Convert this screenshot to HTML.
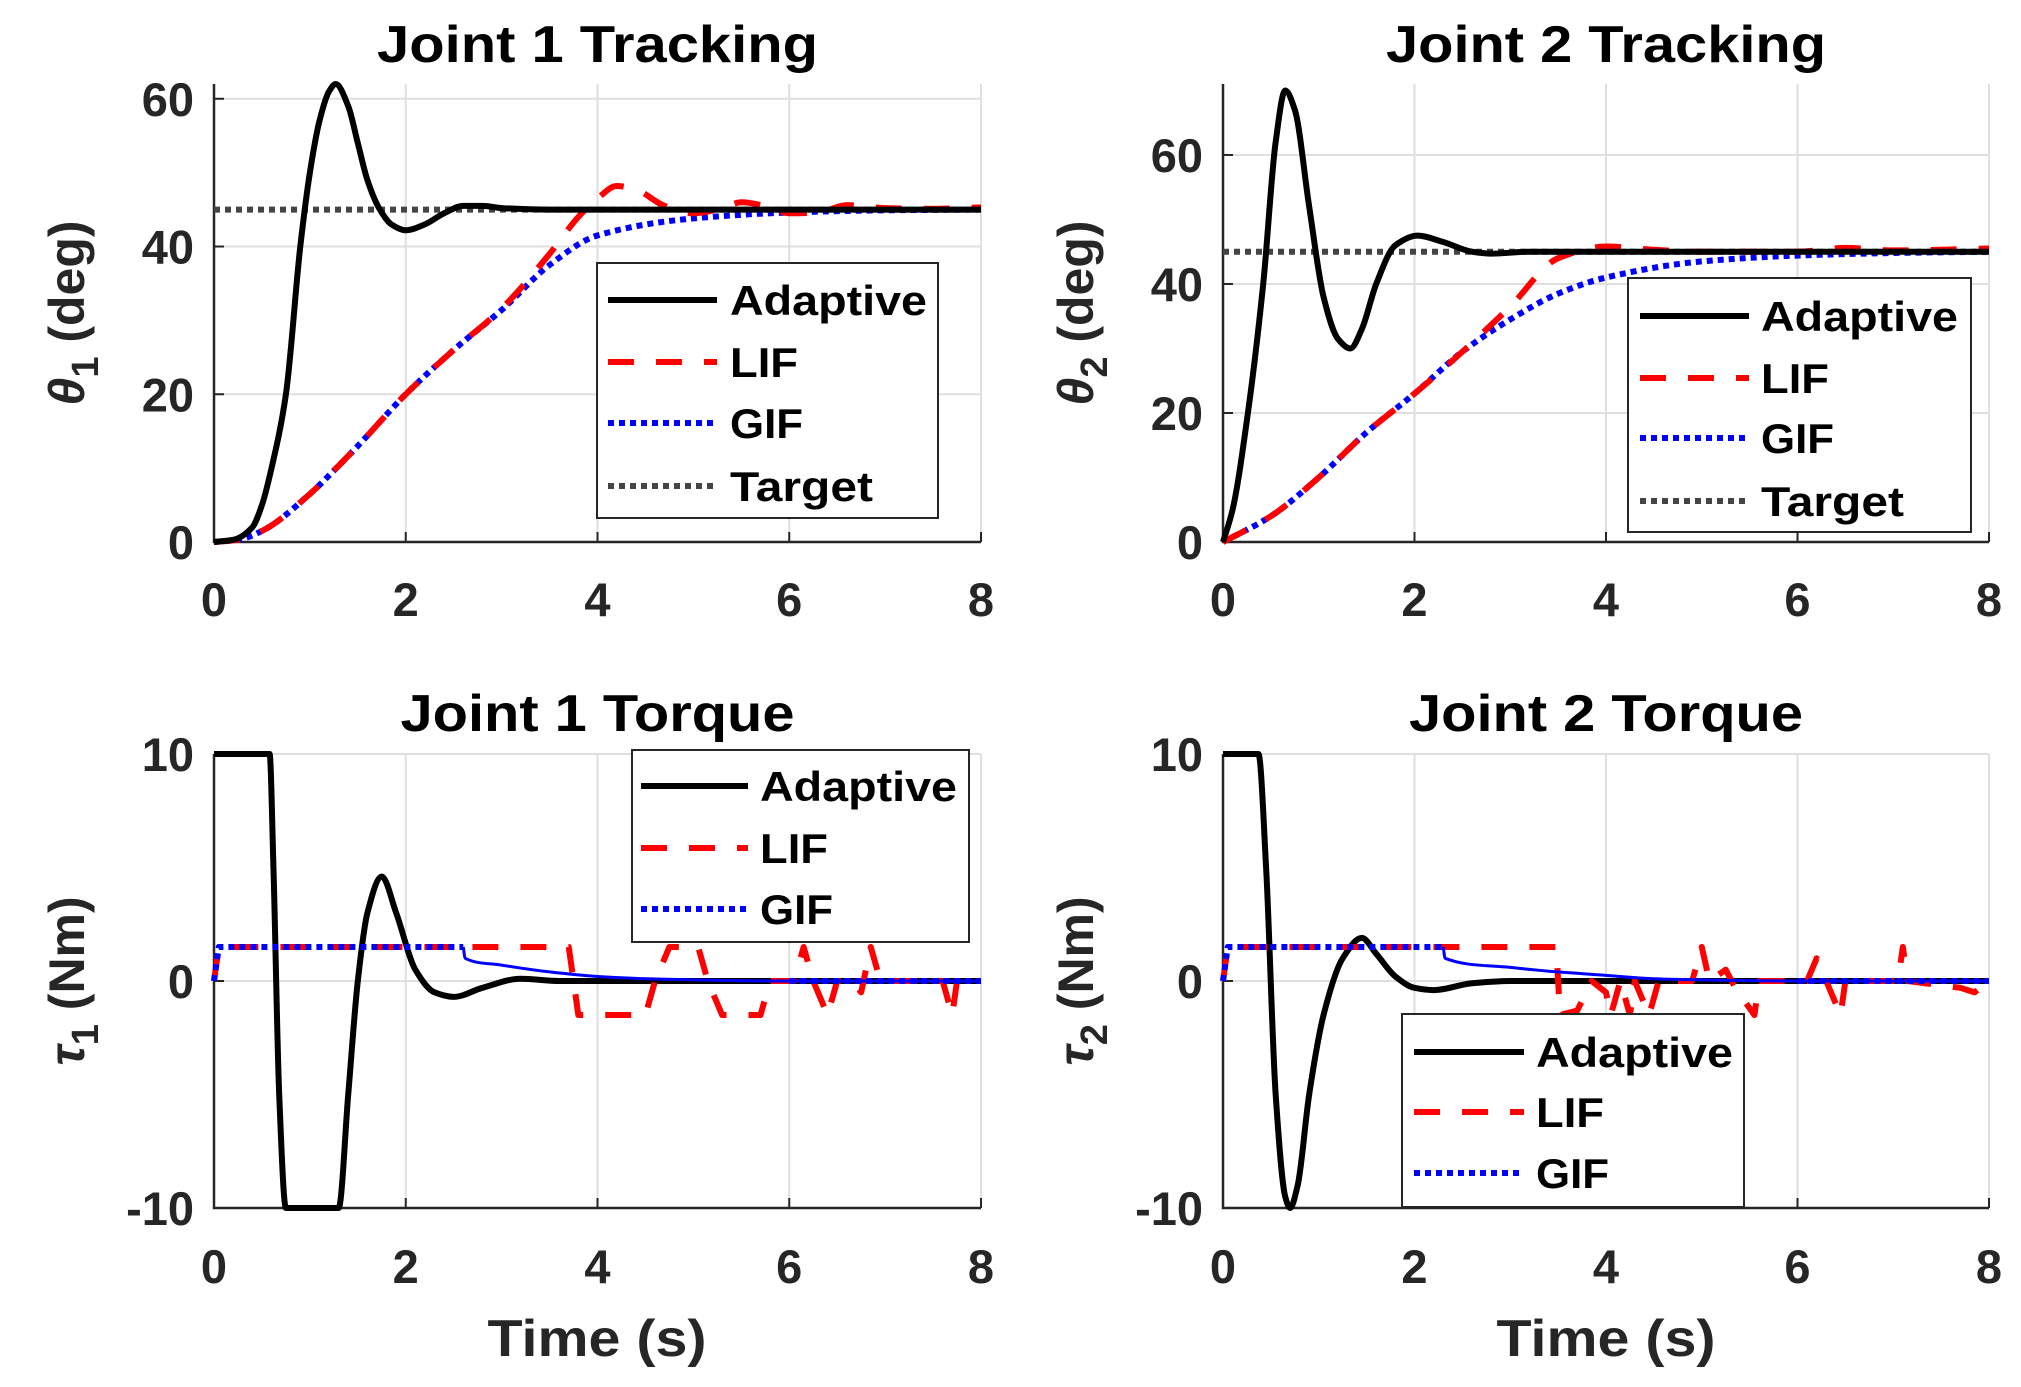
<!DOCTYPE html>
<html><head><meta charset="utf-8"><style>
html,body{margin:0;padding:0;background:#fff;}
svg{display:block;font-family:"Liberation Sans",sans-serif;font-weight:bold;}
</style></head><body>
<svg id="fig" width="2021" height="1387" viewBox="0 0 2021 1387" xmlns="http://www.w3.org/2000/svg"></svg>
<script>
// ---- data ----
const tAd1 = [0,0.2,0.4,0.5,0.6,0.75,0.9,1.0,1.1,1.2,1.27,1.4,1.5,1.6,1.73,1.85,2.0,2.2,2.4,2.6,2.8,3.0,3.5,8];
const vAd1 = [0,0.3,2,5,10,20,40,50,57,61,62,59,54,49,45,43,42.2,43,44.5,45.5,45.5,45.2,45,45];
const tGif1 = [0,0.25,0.5,1.0,1.26,1.5,2.0,2.5,3.0,3.5,4.0,5.0,6.0,7.0,8.0];
const vGif1 = [0,0.3,1.5,6.5,9.8,13,20,26,31.4,37.5,41.5,43.8,44.6,44.9,45];
const tLif1 = [0,0.25,0.5,1.0,1.26,1.5,2.0,2.5,3.0,3.5,3.8,4.0,4.2,4.4,4.7,5.0,5.3,5.5,5.8,6.0,6.3,6.6,7.0,7.5,8.0];
const vLif1 = [0,0.3,1.5,6.5,9.8,13,20,26,31.6,39,44,46.5,48.2,47.7,45.5,44.5,45.2,46,45.3,44.5,44.6,45.6,45.2,45.1,45.3];
const tAd2 = [0,0.1,0.26,0.42,0.55,0.65,0.75,0.9,1.05,1.2,1.33,1.45,1.6,1.8,2.03,2.3,2.6,2.8,3.2,8];
const vAd2 = [0,5,20,40,62,70,67,52,38,31.5,30,33,40,46,47.5,46.5,45,44.7,45,45];
const tGif2 = [0,0.5,1.0,1.5,2.0,2.5,3.0,3.5,4.0,5.0,6.0,7.0,8.0];
const vGif2 = [0,4,10,17,23,29.5,34.5,38.5,41,43.5,44.4,44.8,45];
const tLif2 = [0,0.5,1.0,1.5,2.0,2.5,3.0,3.5,4.0,4.5,5.0,6.0,6.5,7.0,8.0];
const vLif2 = [0,4,10,17,23,29.5,36.5,44,45.8,45.3,45,45,45.6,45.2,45.5];
const target = 45;
const tTq1Ad = [0,0.58,0.62,0.68,0.75,1.3,1.4,1.5,1.6,1.75,1.9,2.1,2.3,2.5,2.8,3.2,3.6,8];
const vTq1Ad = [10,10,5,-5,-10,-10,-5,0,3,4.6,3,0.5,-0.5,-0.7,-0.3,0.1,0,0];
const tTq1Gif = [0,0.05,2.6,2.62,3.0,3.5,4.0,4.5,5.0,6.0,8.0];
const vTq1Gif = [0,1.5,1.5,1.0,0.7,0.4,0.2,0.1,0.05,0,0];
const tTq1Lif = [0,0.05,3.7,3.8,4.5,4.6,4.75,5.05,5.15,5.3,5.7,5.8,6.05,6.15,6.25,6.4,6.5,6.65,6.75,6.85,6.95,7.6,7.7,7.75,8];
const vTq1Lif = [0,1.5,1.5,-1.5,-1.5,0,1.5,1.5,0,-1.5,-1.5,0,0,1.5,0,-1.5,0,0,-0.5,1.5,0,0,-1.5,0,0];
const tTq2Ad = [0,0.37,0.45,0.55,0.65,0.7,0.78,0.9,1.05,1.25,1.45,1.6,1.8,2.0,2.2,2.6,3,8];
const vTq2Ad = [10,10,5,-5,-9.5,-10,-9,-5,-1.5,1,1.9,1.2,0.2,-0.3,-0.4,-0.1,0,0];
const tTq2Gif = [0,0.05,2.3,2.32,3.0,3.5,4.0,4.5,5.0,6.0,8.0];
const vTq2Gif = [0,1.5,1.5,1.0,0.6,0.4,0.25,0.1,0.05,0,0];
const tTq2Lif = [0,0.05,3.48,3.52,3.7,3.85,4.0,4.05,4.15,4.25,4.3,4.45,4.55,4.9,5.0,5.08,5.25,5.35,5.55,5.6,6.1,6.2,6.3,6.45,6.5,7.05,7.1,7.15,7.7,7.85,8];
const vTq2Lif = [0,1.5,1.5,-1.5,-1.3,0,-0.5,-1.5,0,-1.5,0,-1.5,0,0,1.5,0,0.5,-0.3,-1.5,0,0,1,0,-1.5,0,0,1.5,0,-0.3,-0.5,0];
const xTicks = [0,2,4,6,8];
const yTicksTrack = [0,20,40,60];
const yTicksTorque = [-10,0,10];

// ---- helpers ----
const NS = "http://www.w3.org/2000/svg";
const fig = document.getElementById('fig');
function mk(tag, attrs, parent){ const e=document.createElementNS(NS,tag); for(const k in attrs) e.setAttribute(k,attrs[k]); (parent||fig).appendChild(e); return e; }
// monotone cubic (Fritsch-Carlson) in screen space
function smoothPath(xs, ys){
  const n=xs.length; if(n<3) return linePath(xs,ys);
  const dx=[],m=[],t=new Array(n);
  for(let i=0;i<n-1;i++){ dx[i]=xs[i+1]-xs[i]; m[i]=(ys[i+1]-ys[i])/dx[i]; }
  t[0]=m[0]; t[n-1]=m[n-2];
  for(let i=1;i<n-1;i++){
    if(m[i-1]*m[i]<=0) t[i]=0;
    else { const w1=2*dx[i]+dx[i-1], w2=dx[i]+2*dx[i-1]; t[i]=(w1+w2)/(w1/m[i-1]+w2/m[i]); }
  }
  let d='M'+xs[0]+','+ys[0];
  for(let i=0;i<n-1;i++){
    const h=dx[i]/3;
    d+=' C'+(xs[i]+h)+','+(ys[i]+t[i]*h)+' '+(xs[i+1]-h)+','+(ys[i+1]-t[i+1]*h)+' '+xs[i+1]+','+ys[i+1];
  }
  return d;
}
function linePath(xs, ys){ return xs.map((x,i)=>(i?'L':'M')+x+','+ys[i]).join(' '); }

const styles = {
  ad:{stroke:'#000','stroke-width':6},
  lif:{stroke:'#ff0000','stroke-width':6,'stroke-dasharray':'26 22'},
  gif:{stroke:'#0000ff','stroke-width':6,'stroke-dasharray':'6 5'},
  tgt:{stroke:'#444','stroke-width':6,'stroke-dasharray':'6 5'}
};

function axes(id, x0, x1, yT, yB, ymin, ymax, yTicks, title, titleW, titleY, ylab, ylabSub, ylabUnit, ylabX, xLabY){
  const g = mk('g',{});
  
  
  const sx = t => x0 + (t/8)*(x1-x0);
  const sy = v => yB - (v-ymin)/(ymax-ymin)*(yB-yT);
  mk('rect',{x:x0,y:yT,width:x1-x0,height:yB-yT,fill:'#fff'},g);
  xTicks.forEach(t=>{ const l=mk('line',{x1:sx(t),x2:sx(t),y1:yT,y2:yB,stroke:'#dfdfdf','stroke-width':2},g);
      });
  yTicks.forEach(v=>{ const l=mk('line',{x1:x0,x2:x1,y1:sy(v),y2:sy(v),stroke:'#dfdfdf','stroke-width':2},g);
      });
  xTicks.forEach(t=>{
    mk('line',{x1:sx(t),x2:sx(t),y1:yB,y2:yB-10,stroke:'#262626','stroke-width':2},g);
    const tx=mk('text',{x:sx(t),y:xLabY,'text-anchor':'middle','font-size':47,fill:'#262626'},g); tx.textContent=t;
     
  });
  yTicks.forEach(v=>{
    mk('line',{x1:x0,x2:x0+10,y1:sy(v),y2:sy(v),stroke:'#262626','stroke-width':2},g);
    const tx=mk('text',{x:x0-20,y:sy(v)+17,'text-anchor':'end','font-size':47,fill:'#262626'},g); tx.textContent=v;
     
  });
  mk('path',{d:'M'+x0+','+yT+' L'+x0+','+yB+' L'+x1+','+yB,fill:'none',stroke:'#262626','stroke-width':2.5},g);
  const tt=mk('text',{x:(x0+x1)/2,y:titleY,'text-anchor':'middle','font-size':52,fill:'#000',textLength:titleW,lengthAdjust:'spacingAndGlyphs'},g);
  tt.textContent=title;  
  const yl=mk('text',{x:0,y:0,'text-anchor':'middle','font-size':50,fill:'#262626',transform:'translate('+ylabX+','+((yT+yB)/2)+') rotate(-90)'},g);
   
  const s1=mk('tspan',{'font-style':'italic'},yl); s1.textContent=ylab;
  const s2=mk('tspan',{dy:14,'font-size':38},yl); s2.textContent=ylabSub;
  const s3=mk('tspan',{dy:-14},yl); s3.textContent=' '+ylabUnit;
  const clipId='clip-'+id;
  const cp=mk('clipPath',{id:clipId},g); mk('rect',{x:x0-4,y:yT-6,width:x1-x0+8,height:yB-yT+12},cp);
  const data=mk('g',{'clip-path':'url(#'+clipId+')'},g);
  return {g,data,sx,sy};
}
function series(ax, ts, vs, st, name, smooth, extra){
  const xs=ts.map(ax.sx), ys=vs.map(ax.sy);
  const p=mk('path',Object.assign({d:smooth?smoothPath(xs,ys):linePath(xs,ys),fill:'none','stroke-linejoin':'round'},st,extra||{}),ax.data);
  
  
  return p;
}
const legendW = {Adaptive:197, LIF:68, GIF:73, Target:143};
function legend(x,y,w,h,entries,lineX0,lineX1,textX,rowYs,name){
  const g=mk('g',{});
  
  
  mk('rect',{x:x,y:y,width:w,height:h,fill:'#fff',stroke:'#262626','stroke-width':2},g);
  entries.forEach((e,i)=>{
    mk('line',Object.assign({x1:lineX0,x2:lineX1,y1:rowYs[i],y2:rowYs[i]},styles[e[0]]),g);
    const t=mk('text',{x:textX,y:rowYs[i]+15,'font-size':42,fill:'#000',textLength:legendW[e[1]],lengthAdjust:'spacingAndGlyphs'},g); t.textContent=e[1];
     
  });
}

// ---- panels ----
const A1=axes('joint1-tracking-axes',214,981,84,542,0,62,yTicksTrack,'Joint 1 Tracking',441,62,'θ','1','(deg)',84,616);
series(A1,[0,8],[target,target],styles.tgt,'target-line',false);
series(A1,tGif1,vGif1,styles.gif,'gif-line',true);
series(A1,tLif1,vLif1,styles.lif,'lif-line',true);
series(A1,tAd1,vAd1,styles.ad,'adaptive-line',true);

const A2=axes('joint2-tracking-axes',1223,1989,84,542,0,71,yTicksTrack,'Joint 2 Tracking',440,62,'θ','2','(deg)',1093,616);
series(A2,[0,8],[target,target],styles.tgt,'target-line',false);
series(A2,tGif2,vGif2,styles.gif,'gif-line',true);
series(A2,tLif2,vLif2,styles.lif,'lif-line',true);
series(A2,tAd2,vAd2,styles.ad,'adaptive-line',true);

const A3=axes('joint1-torque-axes',214,981,754,1208,-10,10,yTicksTorque,'Joint 1 Torque',394,731,'τ','1','(Nm)',84,1283);
series(A3,tTq1Ad,vTq1Ad,styles.ad,'adaptive-line',true);
series(A3,tTq1Lif,vTq1Lif,styles.lif,'lif-line',false,{'stroke-dasharray':'26 22'});
series(A3,tTq1Gif.slice(0,3),vTq1Gif.slice(0,3),styles.gif,'gif-line',false);
series(A3,tTq1Gif.slice(2),vTq1Gif.slice(2),{stroke:'#0000ff','stroke-width':3},'gif-decay-line',true);
series(A3,[6,8],[0,0],styles.gif,'gif-line-tail',false);

const A4=axes('joint2-torque-axes',1223,1989,754,1208,-10,10,yTicksTorque,'Joint 2 Torque',394,731,'τ','2','(Nm)',1093,1283);
series(A4,tTq2Ad,vTq2Ad,styles.ad,'adaptive-line',true);
series(A4,tTq2Lif,vTq2Lif,styles.lif,'lif-line',false,{'stroke-dasharray':'26 22'});
series(A4,tTq2Gif.slice(0,3),vTq2Gif.slice(0,3),styles.gif,'gif-line',false);
series(A4,tTq2Gif.slice(2),vTq2Gif.slice(2),{stroke:'#0000ff','stroke-width':3},'gif-decay-line',true);
series(A4,[6,8],[0,0],styles.gif,'gif-line-tail',false);

[[597,'x-axis-title'],[1606,'x-axis-title']].forEach(a=>{
  const t=mk('text',{x:a[0],y:1356,'text-anchor':'middle','font-size':52,fill:'#262626',textLength:219,lengthAdjust:'spacingAndGlyphs'});
  t.textContent='Time (s)';  
});

const four=[['ad','Adaptive'],['lif','LIF'],['gif','GIF'],['tgt','Target']];
const three=four.slice(0,3);
legend(597,263,341,255,four,608,717,730,[300,362,423,486],'legend-joint1-tracking');
legend(1628,278,343,254,four,1640,1749,1761,[316,378,438,501],'legend-joint2-tracking');
legend(632,750,337,192,three,641,748,760,[786,848,909],'legend-joint1-torque');
legend(1402,1014,342,193,three,1414,1524,1536,[1052,1112,1173],'legend-joint2-torque');
</script>
</body></html>
